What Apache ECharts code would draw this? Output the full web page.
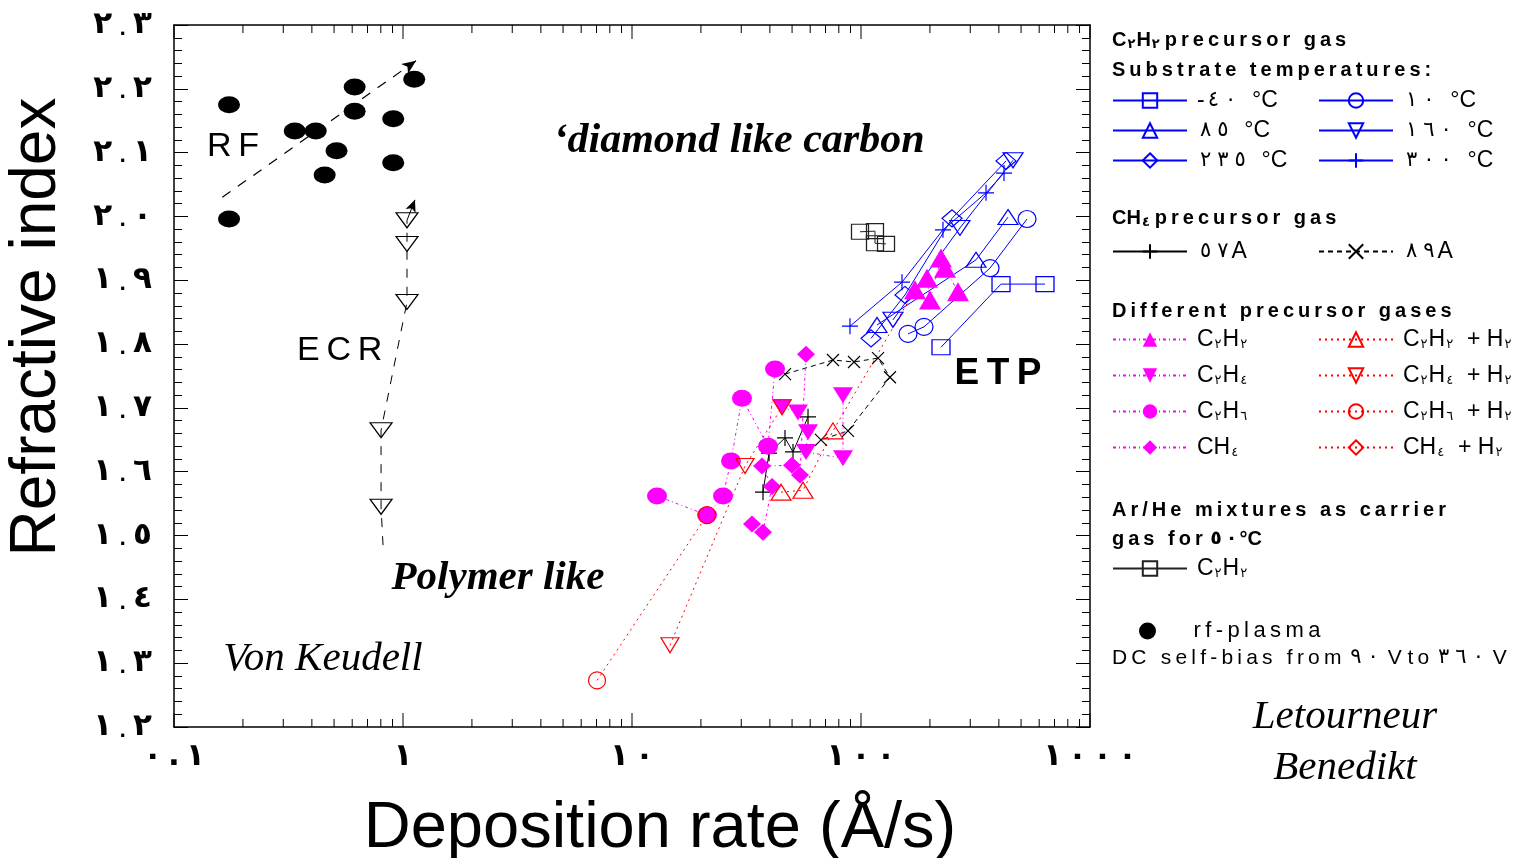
<!DOCTYPE html>
<html>
<head>
<meta charset="utf-8">
<script src="https://cdn.jsdelivr.net/npm/echarts@6/dist/echarts.min.js"></script>
<style>
html,body{margin:0;padding:0;background:#fff}
#chart{width:1529px;height:858px}
</style>
</head>
<body>
<div id="chart"></div>
<script>
// Refractive index of a-C:H films versus deposition rate (RF, ECR and ETP plasmas)

const ARABIC = '٠١٢٣٤٥٦٧٨٩';
// every digit becomes its own rich token, so Arabic-Indic digits keep their order and get spacing
const digitTokens = (s, tag) => String(s).replace(/[0-9.]/g, c => '{' + tag + '|' + (c === '.' ? '.' : ARABIC[+c]) + '}');

// axis ranges and decade labels
const xMin = 0.1, xMax = 1000;
const yMin = 1.2, yMax = 2.3, yStep = 0.1;
const xDecades = [0.1, 1, 10, 100, 1000];

// rf-plasma (DC self-bias 90 V to 360 V)
const rfPlasma = [[0.174,2.175],[0.174,1.996],[0.337,2.134],[0.416,2.134],[0.513,2.103],[0.455,2.065],
                  [0.615,2.203],[0.615,2.165],[0.907,2.153],[0.907,2.084],[1.12,2.215]];
const rfTrend = [[0.1625,2.030],[1.14,2.244]];

// ECR plasma
const ecrPoints = [[0.802,1.545],[0.802,1.665],[1.041,1.866],[1.041,1.957],[1.041,1.994]];
const ecrTrendStart = [0.818,1.485];
const ecrTrendEnd = [1.128,2.026];

// ETP, C2H2 precursor, substrate temperatures
const c2h2SubM40 = [[223.5,1.795],[408.7,1.894],[636,1.894]];
const c2h2Sub10  = [[160.4,1.816],[188.4,1.827],[365.9,1.919],[530.9,1.996]];
const c2h2Sub85  = [[117.5,1.830],[317.8,1.932],[438.5,1.999]];
const c2h2Sub160 = [[137.9,1.838],[270.5,1.982],[461.2,2.088]];
const c2h2Sub235 = [[110.6,1.809],[155.6,1.877],[249.7,1.997],[429.8,2.087]];
const c2h2Sub300 = [[89.5,1.828],[151,1.897],[228,1.979],[351.5,2.037],[421.2,2.068]];

// ETP, CH4 precursor
const ch4At57A = [[37.33,1.568],[39.66,1.629],[46.57,1.653],[50.48,1.631],[58.70,1.686]];
const ch4At89A = [[46.57,1.753],[75.44,1.775],[93.2,1.772],[118.7,1.778],[133.8,1.748],[87.77,1.664],[66.89,1.650]];

// Ar/He carrier gas, C2H2 at 50 °C
const arHeC2H2 = [[99.0,1.976],[115.1,1.977],[115.1,1.958],[128.6,1.957]];

// different precursor gases
const pureC2H2 = [[172.1,1.885],[194.2,1.903],[200.1,1.869],[223.5,1.935],[232.7,1.919],[265.2,1.882]];
const pureC2H4 = [[45.19,1.701],[53.08,1.693],[58.70,1.662],[57.52,1.631],[83.44,1.621],[83.44,1.720]];
const pureC2H6 = [[12.86,1.562],[21.26,1.532],[24.97,1.562],[27.06,1.617],[30.22,1.715],[39.26,1.640],[42.13,1.761]];
const pureCH4  = [[33.42,1.518],[37.33,1.505],[40.88,1.577],[36.96,1.609],[49.96,1.610],[54.16,1.595],[57.52,1.784]];
const h2C2H2 = [[44.74,1.568],[55.81,1.571],[75.44,1.664],[172.1,1.885]];
const h2C2H4 = [[14.65,1.328],[31.15,1.609],[45.19,1.701]];
const h2C2H6 = [[7.035,1.273],[21.26,1.532]];
const h2CH4  = [];

// log-axis tick positions (decades and 2..9 subdivisions)
const xTicks = [];
xDecades.forEach((d, i) => {
  xTicks.push([d, yMin, 1]);
  if (i < xDecades.length - 1) for (let k = 2; k <= 9; k++) xTicks.push([+(k * d).toPrecision(3), yMin, 0]);
});

const BLUE = '#0000ff', MAG = '#ff00ff', RED = '#ff0000', BLK = '#000000';
const SANS = '"Liberation Sans", "DejaVu Sans", sans-serif';
const SERIF = '"Liberation Serif", "DejaVu Serif", serif';
const AR = '"DejaVu Sans"';
const DOWN = 'path://M0,0L20,0L10,16Z';
const PLUS = 'path://M10,0L10,20M0,10L20,10';
const CROSS = 'path://M0,0L20,20M20,0L0,20';
const spread = s => s.split('').join('\u2009');

const RICH = {
  s: { fontSize: 13, lineHeight: 13, padding: [10, 1, 0, 1], fontFamily: AR },
  g: { fontSize: 21, fontFamily: AR, padding: [0, 3, 0, 3] }
};
const RICH_BOLD = {
  s: { fontSize: 13, lineHeight: 13, padding: [10, 1, 0, 1], fontFamily: AR, fontWeight: 'bold' },
  g: { fontSize: 19, fontFamily: AR, fontWeight: 'bold', padding: [0, 2, 0, 2] }
};

const LABELS = {
  b_m40: '-' + digitTokens('40', 'g') + '  °C', b_10: digitTokens('10', 'g') + '  °C', b_85: digitTokens('85', 'g') + '  °C',
  b_160: digitTokens('160', 'g') + '  °C', b_235: digitTokens('235', 'g') + '  °C', b_300: digitTokens('300', 'g') + '  °C',
  k_57: digitTokens('57', 'g') + 'A', k_89: digitTokens('89', 'g') + 'A',
  m_c2h2: 'C{s|٢}H{s|٢}', m_c2h4: 'C{s|٢}H{s|٤}', m_c2h6: 'C{s|٢}H{s|٦}', m_ch4: 'CH{s|٤}',
  r_c2h2: 'C{s|٢}H{s|٢}  + H{s|٢}', r_c2h4: 'C{s|٢}H{s|٤}  + H{s|٢}', r_c2h6: 'C{s|٢}H{s|٦}  + H{s|٢}', r_ch4: 'CH{s|٤}  + H{s|٢}',
  arhe: 'C{s|٢}H{s|٢}', rf: spread('rf-plasma')
};

function lineSeries(id, data, color, symbol, size, hollow, dash, extra) {
  return Object.assign({
    id, name: id, type: 'line', data, symbol, symbolSize: size,
    itemStyle: hollow ? { color: 'transparent', borderColor: color, borderWidth: 1.2, opacity: 1 }
                      : { color: color, borderColor: color, borderWidth: 0, opacity: 1 },
    lineStyle: { color: color, width: 1, type: dash || 'solid' },
    emphasis: { disabled: true }, animation: false, z: 3
  }, extra || {});
}

function legendBlock(ids, left, top, gap, extra) {
  return Object.assign({
    data: ids, left, top, orient: 'vertical', padding: 0,
    itemWidth: 74, itemHeight: 18, itemGap: gap,
    formatter: id => LABELS[id],
    textStyle: { fontFamily: SANS, fontSize: 23, color: '#000', lineHeight: 22, padding: [0, 0, 0, 5], rich: RICH }
  }, extra || {});
}

const chart = echarts.init(document.getElementById('chart'), null, { renderer: 'canvas' });

const axisBlack = { lineStyle: { color: BLK, width: 1.5 } };
const centered = { textAlign: 'center', align: 'center', textVerticalAlign: 'middle', verticalAlign: 'middle' };
const leftMid = { textVerticalAlign: 'middle', verticalAlign: 'middle' };

const option = {
  backgroundColor: '#fff',
  animation: false,
  grid: { left: 174, right: 439, top: 25, bottom: 131, containLabel: false },
  xAxis: [
    { type: 'log', logBase: 10, min: xMin, max: xMax, position: 'bottom',
      axisLine: Object.assign({ show: true }, axisBlack), axisTick: { show: false },
      splitLine: { show: false }, minorTick: { show: false },
      axisLabel: { margin: 14, color: '#000',
                   formatter: v => digitTokens(+(+v).toPrecision(6), 'x'),
                   rich: { x: { fontSize: 31, fontWeight: 'bold', fontFamily: AR, padding: [0, 3, 0, 3] } } } },
    { type: 'log', logBase: 10, min: xMin, max: xMax, position: 'top',
      axisLine: Object.assign({ show: true }, axisBlack), axisTick: { show: false },
      splitLine: { show: false }, axisLabel: { show: false } }
  ],
  yAxis: [
    { type: 'value', min: yMin, max: yMax, interval: yStep, position: 'left',
      axisLine: Object.assign({ show: true }, axisBlack),
      axisTick: { show: true, inside: true, length: 14, lineStyle: { color: BLK, width: 1 } },
      minorTick: { show: true, splitNumber: 5, length: 8, lineStyle: { color: BLK, width: 1 } },
      splitLine: { show: false },
      axisLabel: { margin: 22, color: '#000',
        formatter: v => { const s = digitTokens((+v).toFixed(1), 'd').split('{d|.}'); return s[0] + '{p|.}' + s[1]; },
        rich: { d: { fontSize: 31, fontWeight: 'bold', fontFamily: AR },
                p: { fontSize: 18, fontWeight: 'bold', fontFamily: AR, padding: [10, 7, 0, 7] } } } },
    { type: 'value', min: yMin, max: yMax, interval: yStep, position: 'right',
      axisLine: Object.assign({ show: true }, axisBlack),
      axisTick: { show: true, inside: true, length: 14, lineStyle: { color: BLK, width: 1 } },
      minorTick: { show: true, splitNumber: 5, length: 8, lineStyle: { color: BLK, width: 1 } },
      splitLine: { show: false }, axisLabel: { show: false } }
  ],
  legend: [
    legendBlock(['b_m40', 'b_85', 'b_235'], 1112, 89, 7),
    legendBlock(['b_10', 'b_160', 'b_300'], 1318, 89, 7),
    legendBlock(['k_57'], 1112, 240, 7),
    legendBlock(['k_89'], 1318, 240, 7),
    legendBlock(['m_c2h2', 'm_c2h4', 'm_c2h6', 'm_ch4'], 1112, 328, 13),
    legendBlock(['r_c2h2', 'r_c2h4', 'r_c2h6', 'r_ch4'], 1318, 328, 13),
    legendBlock(['arhe'], 1112, 557, 7),
    legendBlock(['rf'], 1139, 620, 7, { itemWidth: 22, itemHeight: 17, symbolKeepAspect: false,
      textStyle: { fontFamily: SANS, fontSize: 22, color: '#000', lineHeight: 22, padding: [0, 0, 0, 30] } })
  ],
  series: [
    // minor/major ticks of the log axes (bottom and top)
    { type: 'custom', id: 'xticks', silent: true, data: xTicks, encode: { x: 0, y: 1 }, clip: false, z: 1,
      renderItem: (params, api) => {
        const v = api.value(0), major = api.value(2) === 1;
        const b = api.coord([v, yMin]), t = api.coord([v, yMax]);
        const len = major ? 14 : 8;
        const st = { stroke: BLK, lineWidth: 1 };
        return { type: 'group', children: [
          { type: 'line', shape: { x1: b[0], y1: b[1], x2: b[0], y2: b[1] - len }, style: st },
          { type: 'line', shape: { x1: t[0], y1: t[1], x2: t[0], y2: t[1] + len }, style: st }
        ] };
      } },

    // ETP, C2H2, substrate temperatures
    lineSeries('b_m40', c2h2SubM40, BLUE, 'rect', [18, 15], true),
    lineSeries('b_10', c2h2Sub10, BLUE, 'circle', [18, 17], true),
    lineSeries('b_85', c2h2Sub85, BLUE, 'triangle', [20, 15], true),
    lineSeries('b_160', c2h2Sub160, BLUE, DOWN, [20, 15], true),
    lineSeries('b_235', c2h2Sub235, BLUE, 'diamond', [20, 17], true),
    lineSeries('b_300', c2h2Sub300, BLUE, PLUS, [16, 16], true),

    // CH4 precursor, black
    lineSeries('k_57', ch4At57A, BLK, PLUS, [16, 16], true),
    lineSeries('k_89', ch4At89A, BLK, CROSS, [12, 12], true, [5, 4]),
    lineSeries('arhe', arHeC2H2, '#222', 'rect', [17, 15], true),

    // different precursor gases, filled magenta
    lineSeries('m_c2h2', pureC2H2, MAG, 'triangle', [22, 19], false, [3, 3, 1, 3]),
    lineSeries('m_c2h4', pureC2H4, MAG, DOWN, [20, 16], false, [3, 3, 1, 3]),
    lineSeries('m_c2h6', pureC2H6, MAG, 'circle', [20, 17], false, [3, 3, 1, 3]),
    lineSeries('m_ch4', pureCH4, MAG, 'diamond', [18, 17], false, [3, 3, 1, 3]),

    // with added H2, open red
    lineSeries('r_c2h2', h2C2H2.map((p, i) => i === h2C2H2.length - 1 ? { value: p, symbol: 'none' } : p),
               RED, 'triangle', [20, 16], true, [2, 4]),
    lineSeries('r_c2h4', h2C2H4, RED, DOWN, [18, 15], true, [2, 4]),
    lineSeries('r_c2h6', h2C2H6, RED, 'circle', [17, 17], true, [2, 4]),
    lineSeries('r_ch4', h2CH4, RED, 'diamond', [18, 17], true, [2, 4]),

    // rf plasma with trend arrow
    { id: 'rf', name: 'rf', type: 'scatter', data: rfPlasma, symbol: 'circle', symbolSize: [22, 17],
      itemStyle: { color: BLK, opacity: 1 }, emphasis: { disabled: true }, z: 3,
      markLine: { silent: true, symbol: ['none', 'arrow'], symbolSize: [9, 14], label: { show: false },
        lineStyle: { color: BLK, width: 1.2, type: [10, 9] },
        data: [[{ coord: rfTrend[0] }, { coord: rfTrend[1] }]] } },

    // ECR plasma with trend arrow
    lineSeries('ecr', [{ value: ecrTrendStart, symbol: 'none' }].concat(ecrPoints), BLK, DOWN, [22, 15], true, [9, 9],
      { markLine: { silent: true, symbol: ['none', 'arrow'], symbolSize: [8, 12], label: { show: false },
          lineStyle: { color: BLK, width: 1, type: 'solid' },
          data: [[{ coord: ecrPoints[ecrPoints.length - 1] }, { coord: ecrTrendEnd }]] } })
  ],
  graphic: [
    // axis titles
    { type: 'text', x: 660, y: 829, style: Object.assign({ text: 'Deposition rate (Å/s)', font: '65px ' + SANS, fill: '#000' }, centered) },
    { type: 'text', x: 37, y: 327, rotation: Math.PI / 2, style: Object.assign({ text: 'Refractive index', font: '64px ' + SANS, fill: '#000' }, centered) },

    // in-plot annotations
    { type: 'text', x: 207, y: 147, style: Object.assign({ text: 'R\u2009F', font: '34px ' + SANS, fill: '#000' }, leftMid) },
    { type: 'text', x: 297, y: 351, style: Object.assign({ text: 'E\u2009C\u2009R', font: '34px ' + SANS, fill: '#000' }, leftMid) },
    { type: 'text', x: 739, y: 141, style: Object.assign({ text: '\u2018diamond like carbon', font: 'italic bold 42px ' + SERIF, fill: '#000' }, centered) },
    { type: 'text', x: 498, y: 578, style: Object.assign({ text: 'Polymer like', font: 'italic bold 41px ' + SERIF, fill: '#000' }, centered) },
    { type: 'text', x: 323, y: 659, style: Object.assign({ text: 'Von Keudell', font: 'italic 41px ' + SERIF, fill: '#000' }, centered) },
    { type: 'text', x: 998, y: 374, style: Object.assign({ text: 'E\u2009T\u2009P', font: 'bold 37px ' + SANS, fill: '#000' }, centered) },
    { type: 'text', x: 1345, y: 717, style: Object.assign({ text: 'Letourneur', font: 'italic 41px ' + SERIF, fill: '#000' }, centered) },
    { type: 'text', x: 1345, y: 768, style: Object.assign({ text: 'Benedikt', font: 'italic 41px ' + SERIF, fill: '#000' }, centered) },

    // legend headings
    { type: 'text', x: 1112, y: 40, style: Object.assign({ text: 'C{s|٢}H{s|٢}\u2009' + spread('precursor gas'), font: 'bold 20px ' + SANS, fill: '#000', rich: RICH_BOLD }, leftMid) },
    { type: 'text', x: 1112, y: 70, style: Object.assign({ text: spread('Substrate temperatures:'), font: 'bold 20px ' + SANS, fill: '#000' }, leftMid) },
    { type: 'text', x: 1112, y: 218, style: Object.assign({ text: 'CH{s|٤}\u2009' + spread('precursor gas'), font: 'bold 20px ' + SANS, fill: '#000', rich: RICH_BOLD }, leftMid) },
    { type: 'text', x: 1112, y: 311, style: Object.assign({ text: spread('Different precursor gases'), font: 'bold 20px ' + SANS, fill: '#000' }, leftMid) },
    { type: 'text', x: 1112, y: 510, style: Object.assign({ text: spread('Ar/He mixtures as carrier'), font: 'bold 20px ' + SANS, fill: '#000' }, leftMid) },
    { type: 'text', x: 1112, y: 539, style: Object.assign({ text: spread('gas for') + ' ' + digitTokens('50', 'g') + '°C', font: 'bold 20px ' + SANS, fill: '#000', rich: RICH_BOLD }, leftMid) },
    { type: 'text', x: 1112, y: 658, style: Object.assign({ text: spread('DC self-bias from') + ' ' + digitTokens('90', 'g') + ' V ' + spread('to') + ' ' + digitTokens('360', 'g') + ' V', font: '21px ' + SANS, fill: '#000', rich: RICH }, leftMid) }
  ]
};

chart.setOption(option);
</script>
</body>
</html>
